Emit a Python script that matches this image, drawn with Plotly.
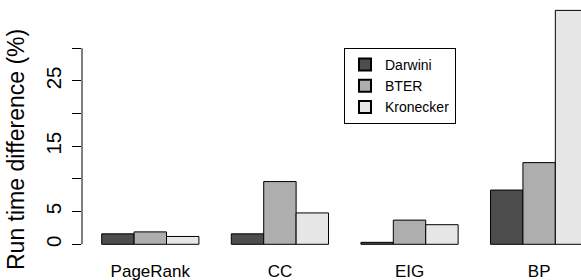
import plotly.graph_objects as go

categories = ["PageRank", "CC", "EIG", "BP"]
series_names = ["Darwini", "BTER", "Kronecker"]
darwini = [1.6, 1.6, 0.3, 8.3]
bter = [1.9, 9.6, 3.7, 12.5]
kronecker = [1.2, 4.8, 3.0, 35.8]
y_tick_vals = [0, 5, 10, 15, 20, 25, 30]
y_tick_text = ["0", "5", "", "15", "", "25", ""]

colors = ["#4D4D4D", "#AEAEAE", "#E6E6E6"]
font = "Liberation Sans, Arial, Helvetica, sans-serif"

fig = go.Figure()
for name, vals, col in zip(series_names, [darwini, bter, kronecker], colors):
    fig.add_trace(go.Bar(
        x=categories, y=vals, name=name,
        marker=dict(color=col, line=dict(color="black", width=1)),
    ))

W, H = 581, 280
L, B = 82, 28
fig.update_layout(
    width=W, height=H,
    margin=dict(l=L, r=0, t=0, b=B, autoexpand=False),
    paper_bgcolor="white", plot_bgcolor="white",
    barmode="group", bargap=0.25, bargroupgap=0,
    font=dict(family=font, color="black"),
    showlegend=True,
    legend=dict(
        x=(344 - L) / (W - L), y=1 - 48 / (H - B),
        xanchor="left", yanchor="top",
        bordercolor="black", borderwidth=1, bgcolor="white",
        font=dict(size=14, family=font), traceorder="normal",
        tracegroupgap=0, itemsizing="constant",
    ),
    xaxis=dict(
        type="category", range=[-0.527, 3.323], automargin=False,
        showline=False, showgrid=False, zeroline=False,
        ticks="outside", ticklen=4, tickcolor="rgba(0,0,0,0)",
        tickfont=dict(size=17, family=font),
    ),
    yaxis=dict(
        range=[-1.179, 37.39], automargin=False,
        showline=False, showgrid=False, zeroline=False,
        tickmode="array", tickvals=y_tick_vals, ticktext=y_tick_text,
        ticks="outside", ticklen=9, tickcolor="black", tickwidth=1,
        tickangle=-90, tickfont=dict(size=20.5, family=font),
        ticklabelstandoff=3,
    ),
    shapes=[dict(type="line", xref="paper", yref="y", x0=0, x1=0,
                 y0=0, y1=30, line=dict(color="black", width=1))],
    annotations=[dict(
        text="Run time difference (%)", textangle=-90,
        xref="paper", yref="paper",
        x=(16 - L) / (W - L), y=1 - 150 / (H - B),
        xanchor="center", yanchor="middle", showarrow=False,
        font=dict(size=23, family=font, color="black"),
    )],
)

fig.write_html(
    "out.html",
    config={"displayModeBar": False},
    post_script="document.body.style.margin='0';document.body.style.overflow='hidden';",
)
